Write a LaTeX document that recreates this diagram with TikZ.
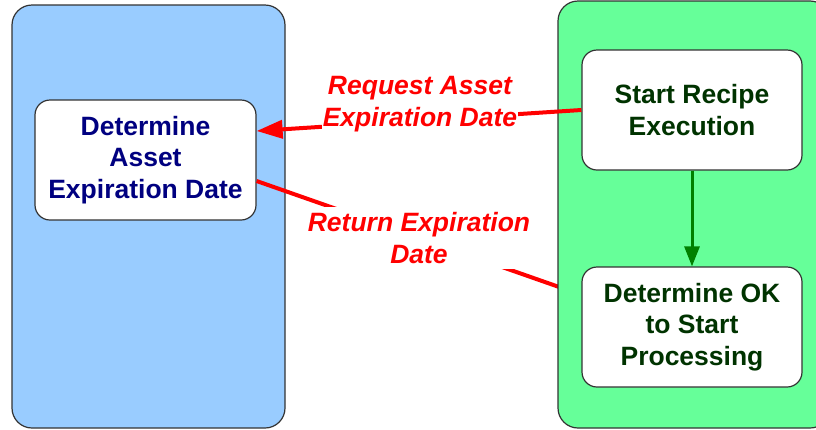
\documentclass[tikz,border=0pt]{standalone}
\usepackage{fontspec}
\setmainfont{Liberation Sans}
\usetikzlibrary{arrows.meta}
\definecolor{laneblue}{HTML}{99CCFF}
\definecolor{lanegreen}{HTML}{66FF99}
\definecolor{edgegray}{HTML}{333333}
\definecolor{navytext}{HTML}{000080}
\definecolor{greentext}{HTML}{003300}
\definecolor{flowgreen}{HTML}{008000}
\tikzset{
  lane/.style={draw=edgegray, line width=1.2pt, rounded corners=20pt, inner sep=0pt},
  stepbox/.style={draw=edgegray, line width=1.2pt, fill=white, rounded corners=15pt,
    minimum width=220pt, minimum height=120pt, align=center, inner sep=0pt,
    font=\fontsize{26.5}{31.5}\selectfont\bfseries},
  msglabel/.style={text=red, align=center, fill=white,
    font=\fontsize{26.5}{31.5}\selectfont\bfseries\itshape},
  msgline/.style={draw=red, line width=4pt},
  flow/.style={draw=flowgreen, line width=3pt, -{Triangle[length=20pt,width=15pt]}}
}
\begin{document}
\begin{tikzpicture}[x=1pt,y=-1pt]
  \useasboundingbox (0,0) rectangle (816,429);
  % left swim lane and its step
  \node[lane, fill=laneblue, minimum width=273pt, minimum height=423pt] (laneL) at (148.5,216.5) {};
  \node[stepbox, text=navytext, minimum width=221pt] (det) at (145.5,160)
    {Determine\\Asset\\Expiration Date};
  % return message, running under the right lane
  \coordinate (retEnd) at (562,288);
  \draw[msgline] ([yshift=-21pt]det.east) -- (retEnd);
  \node[msglabel, inner xsep=7pt, inner ysep=6pt] (retLbl) at (419,238)
    {Return Expiration\\Date};
  % right swim lane and its steps
  \node[lane, fill=lanegreen, minimum width=272pt, minimum height=427pt] (laneR) at (694,214.5) {};
  \node[stepbox, text=greentext] (start) at (692,110) {Start Recipe\\Execution};
  \node[stepbox, text=greentext] (ok) at (692,327) {Determine OK\\to Start\\Processing};
  \draw[flow] (start.south) -- (ok.north);
  % request message
  \draw[msgline, -{Triangle[length=26pt,width=18pt]}] (start.west) -- ([yshift=29pt]det.east);
  \node[msglabel, inner sep=1pt] (reqLbl) at (420,104) {Request Asset\\Expiration Date};
\end{tikzpicture}
\end{document}
